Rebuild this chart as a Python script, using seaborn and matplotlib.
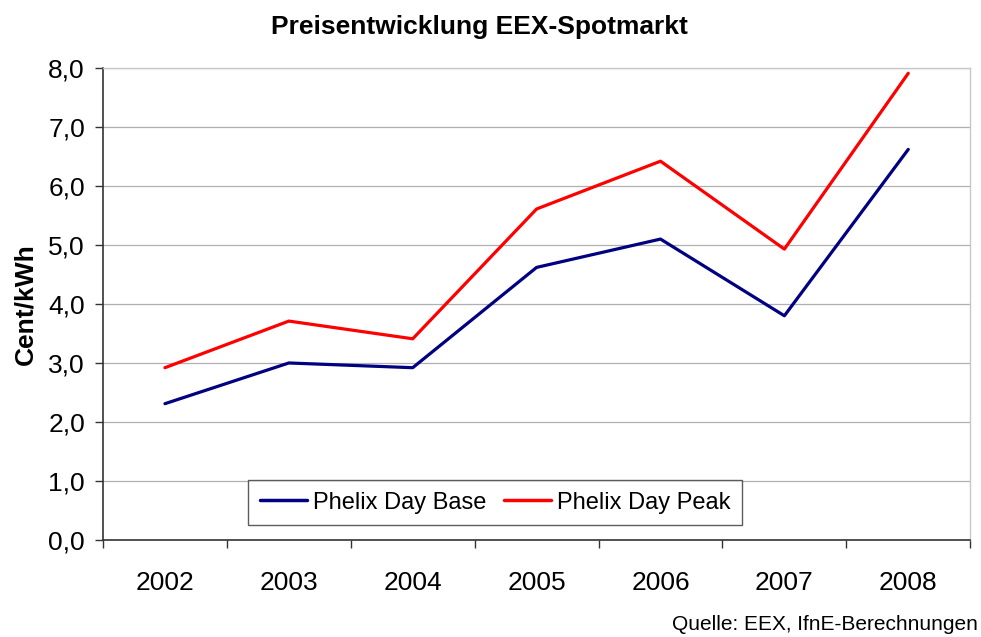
import matplotlib
matplotlib.use("Agg")
import matplotlib.pyplot as plt
import seaborn as sns
import pandas as pd
from matplotlib.ticker import FuncFormatter, FixedLocator

# data
jahre = ["2002", "2003", "2004", "2005", "2006", "2007", "2008"]
base = [2.31, 3.0, 2.92, 4.62, 5.10, 3.80, 6.62]
peak = [2.92, 3.71, 3.41, 5.61, 6.42, 4.93, 7.91]

df = pd.DataFrame({
    "Jahr": jahre * 2,
    "Wert": base + peak,
    "Serie": ["Phelix Day Base"] * len(jahre) + ["Phelix Day Peak"] * len(jahre),
})

sns.set_style("white")
plt.rcParams["font.family"] = ["Liberation Sans", "DejaVu Sans"]
plt.rcParams["text.color"] = "black"
plt.rcParams["axes.labelcolor"] = "black"

fig = plt.figure(figsize=(9.81, 6.37), dpi=100)
ax = fig.add_axes([0.105, 0.1523, 0.884, 0.741])

sns.lineplot(data=df, x="Jahr", y="Wert", hue="Serie",
             palette=["#000080", "#FF0000"], linewidth=2.3, ax=ax, sort=False)

ax.set_xlim(-0.5, len(jahre) - 0.5)
ax.set_ylim(0, 8)
ax.set_yticks([i for i in range(9)])
ax.yaxis.set_major_formatter(FuncFormatter(lambda v, p: f"{v:.1f}".replace(".", ",")))
ax.grid(axis="y", color="#b0b0b0", linewidth=0.9)
ax.set_axisbelow(True)

# ticks zwischen den Kategorien
ax.xaxis.set_minor_locator(FixedLocator([i - 0.5 for i in range(len(jahre) + 1)]))
ax.tick_params(axis="x", which="major", length=0, labelsize=19, pad=22, colors="black")
ax.tick_params(axis="x", which="minor", length=6, width=1, color="#333333", direction="out", bottom=True)
ax.tick_params(axis="y", length=6, width=1, color="#333333", direction="out", left=True,
               labelsize=19, pad=7, labelcolor="black")

for s in ["left", "bottom"]:
    ax.spines[s].set_color("#333333")
    ax.spines[s].set_linewidth(1.2)
for s in ["top", "right"]:
    ax.spines[s].set_color("#c8c8c8")
    ax.spines[s].set_linewidth(1)

ax.set_xlabel("")
ax.set_ylabel("Cent/kWh", fontsize=19, fontweight="bold")
ax.yaxis.set_label_coords(-0.076, 0.5)
fig.text(0.489, 0.957, "Preisentwicklung EEX-Spotmarkt", ha="center", va="center",
         fontsize=19, fontweight="bold")

leg = ax.legend(loc="lower left", bbox_to_anchor=(0.167, 0.031), ncol=2, frameon=True,
                fancybox=False, fontsize=17, handlelength=2.0, handletextpad=0.25,
                columnspacing=0.75, borderpad=0.5, borderaxespad=0)
leg.get_frame().set_edgecolor("#333333")
leg.get_frame().set_linewidth(1)
for line in leg.get_lines():
    line.set_linewidth(2.5)

fig.text(0.997, 0.005, "Quelle: EEX, IfnE-Berechnungen", ha="right", va="bottom", fontsize=15)

fig.savefig("out.png", dpi=100)
